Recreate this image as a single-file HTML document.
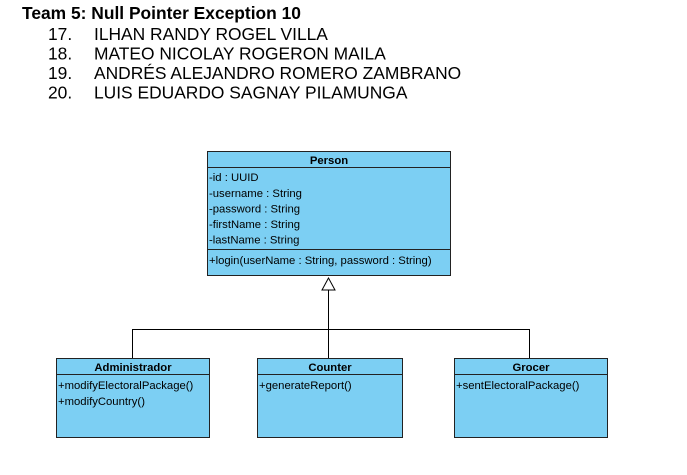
<!DOCTYPE html>
<html><head><meta charset="utf-8"><style>
body{margin:0;background:#fff;width:687px;height:475px;overflow:hidden}
svg{display:block}
text{font-family:"Liberation Sans",Arial,sans-serif}
</style></head><body>
<svg width="687" height="475" xmlns="http://www.w3.org/2000/svg">
<text x="22" y="19" font-size="17.4" font-weight="bold">Team 5: Null Pointer Exception 10</text>
<g font-size="17.4">
<text x="48" y="40">17.</text><text x="94" y="40">ILHAN RANDY ROGEL VILLA</text>
<text x="48" y="59.5">18.</text><text x="94" y="59.5">MATEO NICOLAY ROGERON MAILA</text>
<text x="48" y="79">19.</text><text x="94" y="79">ANDRÉS ALEJANDRO ROMERO ZAMBRANO</text>
<text x="48" y="98.5">20.</text><text x="94" y="98.5">LUIS EDUARDO SAGNAY PILAMUNGA</text>
</g>
<g stroke="#000" stroke-width="1" fill="none">
<line x1="328.5" y1="290" x2="328.5" y2="358"/>
<polyline points="132.5,358 132.5,329.5 529.5,329.5 529.5,358"/>
<polygon points="328.5,278 322,290 335,290" fill="#fff"/>
</g>
<g stroke="#222" stroke-width="1" fill="#7ccff3">
<rect x="207.5" y="151.5" width="243" height="124"/>
<line x1="207.5" y1="167.5" x2="450.5" y2="167.5"/>
<line x1="207.5" y1="249.5" x2="450.5" y2="249.5"/>
<rect x="56.5" y="358.5" width="153" height="79"/>
<line x1="56.5" y1="374.5" x2="209.5" y2="374.5"/>
<rect x="257.5" y="358.5" width="145" height="79"/>
<line x1="257.5" y1="374.5" x2="402.5" y2="374.5"/>
<rect x="454.5" y="358.5" width="153" height="79"/>
<line x1="454.5" y1="374.5" x2="607.5" y2="374.5"/>
</g>
<g font-size="11.3" fill="#000">
<text x="329" y="164" font-weight="bold" text-anchor="middle">Person</text>
<text x="209" y="181">-id : UUID</text>
<text x="209" y="197">-username : String</text>
<text x="209" y="212.5">-password : String</text>
<text x="209" y="228">-firstName : String</text>
<text x="209" y="243.5">-lastName : String</text>
<text x="209" y="264">+login(userName : String, password : String)</text>
<text x="133" y="371" font-weight="bold" text-anchor="middle">Administrador</text>
<text x="58" y="389">+modifyElectoralPackage()</text>
<text x="58" y="405">+modifyCountry()</text>
<text x="330" y="371" font-weight="bold" text-anchor="middle">Counter</text>
<text x="259" y="389">+generateReport()</text>
<text x="531" y="371" font-weight="bold" text-anchor="middle">Grocer</text>
<text x="456" y="389">+sentElectoralPackage()</text>
</g>
</svg>
</body></html>
